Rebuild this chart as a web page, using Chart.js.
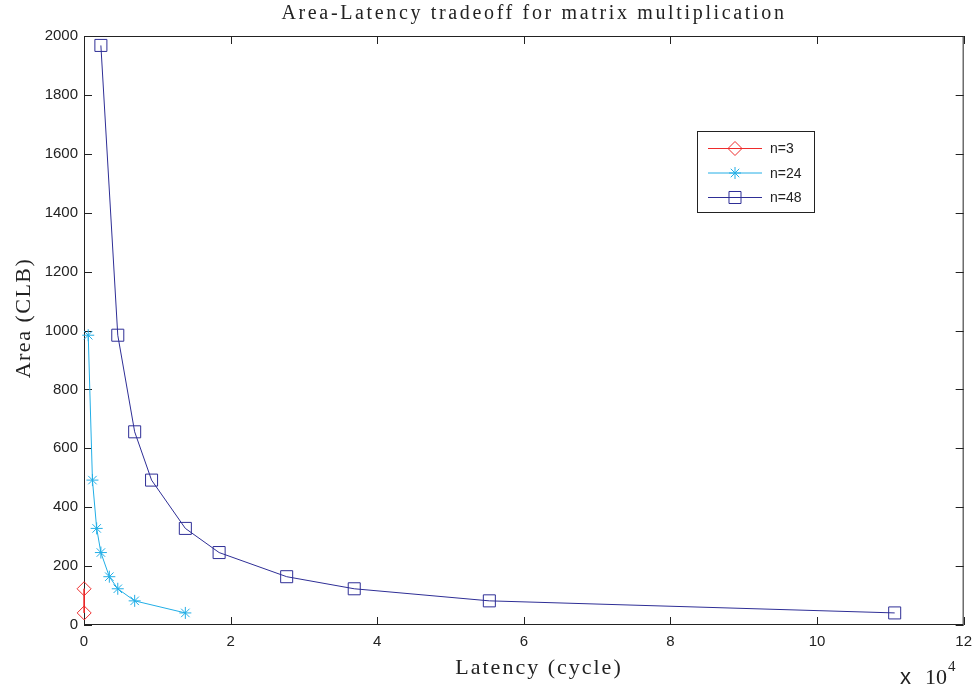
<!DOCTYPE html>
<html>
<head>
<meta charset="utf-8">
<title>Area-Latency tradeoff</title>
<script src="https://cdn.jsdelivr.net/npm/chart.js@4/dist/chart.umd.min.js"></script>
<style>
  body { margin: 0; background: #fff; }
  canvas { display: block; }
</style>
</head>
<body>
<canvas id="chart" width="980" height="696"></canvas>
<script>
// data (latency in cycles, area in CLBs)
const lat3 = [9, 27];
const area3 = [123, 41];
const lat24 = [576, 1152, 1728, 2304, 3456, 4608, 6912, 13824];
const area24 = [984, 492, 328, 246, 164, 123, 82, 41];
const lat48 = [2304, 4608, 6912, 9216, 13824, 18432, 27648, 36864, 55296, 110592];
const area48 = [1968, 984, 656, 492, 328, 246, 164, 123, 82, 41];

const seriesNames = ['n=3', 'n=24', 'n=48'];
const xTickLabels = ['0', '2', '4', '6', '8', '10', '12'];
const yTickLabels = ['0', '200', '400', '600', '800', '1000', '1200', '1400', '1600', '1800', '2000'];

const RED = '#ee2b2b';
const CYAN = '#22aee6';
const NAVY = '#2e2e96';
const AXIS = '#222';

function pts(xs, ys) {
    return xs.map((x, i) => ({ x: x, y: ys[i] }));
}

/* MATLAB-style frame: box + inward ticks, under the data */
const frame = {
    id: 'frame',
    beforeDatasetsDraw(chart) {
        const ctx = chart.ctx;
        const a = chart.chartArea;
        const xs = chart.scales.x, ys = chart.scales.y;
        ctx.save();
        ctx.strokeStyle = AXIS;
        ctx.lineWidth = 1;
        ctx.strokeRect(a.left + 0.5, a.top + 0.5, a.right - a.left - 1, a.bottom - a.top - 1);

        const len = 8;
        ctx.beginPath();
        xs.ticks.forEach(t => {
            const px = Math.round(xs.getPixelForValue(t.value)) + 0.5;
            ctx.moveTo(px, a.bottom); ctx.lineTo(px, a.bottom - len);
            ctx.moveTo(px, a.top); ctx.lineTo(px, a.top + len);
        });
        ys.ticks.forEach(t => {
            const py = Math.round(ys.getPixelForValue(t.value)) + 0.5;
            ctx.moveTo(a.left, py); ctx.lineTo(a.left + len, py);
            ctx.moveTo(a.right, py); ctx.lineTo(a.right - len, py);
        });
        ctx.stroke();
        ctx.restore();
    }
};

/* titles and legend */
const decor = {
    id: 'decor',
    afterDraw(chart) {
        const ctx = chart.ctx;
        ctx.save();
        ctx.fillStyle = '#222';

        // title
        ctx.font = '20px "Liberation Serif", "Times New Roman", serif';
        ctx.textAlign = 'center';
        ctx.textBaseline = 'middle';
        ctx.letterSpacing = '2.65px';
        ctx.fillText('Area-Latency tradeoff for matrix multiplication', 534, 14);

        // x label
        ctx.font = '22px "Liberation Serif", "Times New Roman", serif';
        ctx.letterSpacing = '2px';
        ctx.fillText('Latency (cycle)', 539, 668);

        // y label
        ctx.letterSpacing = '1.5px';
        ctx.save();
        ctx.translate(24, 318);
        ctx.rotate(-Math.PI / 2);
        ctx.fillText('Area (CLB)', 0, 0);
        ctx.restore();
        ctx.letterSpacing = '0px';

        // x 10^4 multiplier
        ctx.textAlign = 'left';
        ctx.font = '22px "Liberation Sans", Arial, sans-serif';
        ctx.fillText('x', 900, 678);
        ctx.font = '22px "Liberation Serif", "Times New Roman", serif';
        ctx.fillText('10', 925, 678);
        ctx.font = '15px "Liberation Serif", "Times New Roman", serif';
        ctx.fillText('4', 948, 667);

        // legend
        const lx = 697, ly = 131, lw = 117, lh = 81;
        ctx.fillStyle = '#fff';
        ctx.fillRect(lx, ly, lw, lh);
        ctx.strokeStyle = AXIS;
        ctx.strokeRect(lx + 0.5, ly + 0.5, lw, lh);
        ctx.font = '14px "Liberation Sans", Arial, sans-serif';
        ctx.textBaseline = 'middle';
        chart.data.datasets.forEach((ds, i) => {
            const y = ly + 17.5 + i * 24.5;
            ctx.strokeStyle = ds.borderColor;
            ctx.fillStyle = 'rgba(0,0,0,0)';
            ctx.lineWidth = 1;
            ctx.beginPath();
            ctx.moveTo(708, y); ctx.lineTo(762, y);
            ctx.stroke();
            Chart.helpers.drawPoint(ctx, {
                pointStyle: ds.pointStyle, radius: ds.pointRadius, borderWidth: 1
            }, 735, y);
            ctx.fillStyle = '#222';
            ctx.fillText(seriesNames[i], 770, y + 1);
        });

        ctx.restore();
    }
};

new Chart(document.getElementById('chart'), {
    type: 'scatter',
    data: {
        datasets: [{
            label: seriesNames[0],
            data: pts(lat3, area3),
            showLine: true,
            clip: false,
            borderColor: RED,
            backgroundColor: 'transparent',
            borderWidth: 1,
            pointStyle: 'rectRot',
            pointRadius: 7,
            pointBorderWidth: 1
        }, {
            label: seriesNames[1],
            data: pts(lat24, area24),
            showLine: true,
            clip: false,
            borderColor: CYAN,
            backgroundColor: 'transparent',
            borderWidth: 1,
            pointStyle: 'star',
            pointRadius: 6,
            pointBorderWidth: 1
        }, {
            label: seriesNames[2],
            data: pts(lat48, area48),
            showLine: true,
            clip: false,
            borderColor: NAVY,
            backgroundColor: 'transparent',
            borderWidth: 1,
            pointStyle: 'rect',
            pointRadius: 8.5,
            pointBorderWidth: 1
        }]
    },
    options: {
        responsive: false,
        animation: false,
        layout: { padding: { top: 36, right: 15, left: 0, bottom: 0 } },
        plugins: {
            legend: { display: false },
            title: { display: false },
            tooltip: { enabled: false }
        },
        scales: {
            x: {
                type: 'linear',
                min: 0,
                max: 120000,
                grid: { display: false, drawTicks: false },
                border: { display: false },
                afterFit: s => { s.height = 71; },
                ticks: {
                    stepSize: 20000,
                    padding: 8,
                    color: '#222',
                    font: { family: '"Liberation Sans", Arial, sans-serif', size: 15 },
                    callback: (v, i) => xTickLabels[i]
                }
            },
            y: {
                min: 0,
                max: 2000,
                grid: { display: false, drawTicks: false },
                border: { display: false },
                afterFit: s => { s.width = 84; },
                ticks: {
                    stepSize: 200,
                    padding: 6,
                    color: '#222',
                    font: { family: '"Liberation Sans", Arial, sans-serif', size: 15 },
                    callback: (v, i) => yTickLabels[i]
                }
            }
        }
    },
    plugins: [frame, decor]
});
</script>
</body>
</html>
